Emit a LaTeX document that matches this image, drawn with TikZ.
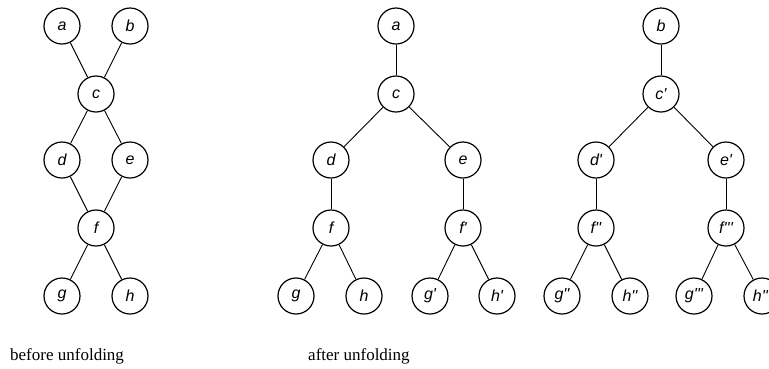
\documentclass[tikz,border=0pt]{standalone}
\usepackage{fontspec}
\setmainfont{Liberation Serif}
\newfontfamily\vfont{Liberation Sans}[Ligatures=TeXOff]
\usetikzlibrary{positioning}

\begin{document}
\begin{tikzpicture}
		[x=1pt, y=-1pt,
		vert/.style ={circle, draw=black, line width=1.2pt, minimum size=36pt, inner sep=0pt, font=\vfont\itshape\fontsize{16}{19}\selectfont},
		link/.style ={black, line width=0.9pt},
		caption/.style ={anchor=base west, inner sep=0pt, font=\fontsize{17}{20}\selectfont}]
		\useasboundingbox (0,0) rectangle (769,368);

		% before unfolding
		\draw (62,26) node[vert] (a) {a};
		\draw (130,26) node[vert] (b) {b};
		\draw (96,94) node[vert] (c) {c};
		\draw (62,160) node[vert] (d) {d};
		\draw (130,160) node[vert] (e) {e};
		\draw (96,228) node[vert] (f) {f};
		\draw (62,296) node[vert] (g) {g};
		\draw (130,296) node[vert] (h) {h};

		\draw[link] (a) -- (c);
		\draw[link] (b) -- (c);
		\draw[link] (c) -- (d);
		\draw[link] (c) -- (e);
		\draw[link] (d) -- (f);
		\draw[link] (e) -- (f);
		\draw[link] (f) -- (g);
		\draw[link] (f) -- (h);

		% after unfolding, root a
		\draw (396,26) node[vert] (ua) {a};
		\draw (396,94) node[vert] (uc) {c};
		\draw (331,160) node[vert] (ud) {d};
		\draw (463,160) node[vert] (ue) {e};
		\draw (331,228) node[vert] (uf) {f};
		\draw (463,228) node[vert] (uf1) {f'};
		\draw (296,296) node[vert] (ug) {g};
		\draw (364,296) node[vert] (uh) {h};
		\draw (430,296) node[vert] (ug1) {g'};
		\draw (497,296) node[vert] (uh1) {h'};

		\draw[link] (ua) -- (uc);
		\draw[link] (uc) -- (ud);
		\draw[link] (uc) -- (ue);
		\draw[link] (ud) -- (uf);
		\draw[link] (ue) -- (uf1);
		\draw[link] (uf) -- (ug);
		\draw[link] (uf) -- (uh);
		\draw[link] (uf1) -- (ug1);
		\draw[link] (uf1) -- (uh1);

		% after unfolding, root b
		\draw (661,26) node[vert] (vb) {b};
		\draw (661,94) node[vert] (vc) {c'};
		\draw (596,160) node[vert] (vd) {d'};
		\draw (726,160) node[vert] (ve) {e'};
		\draw (596,228) node[vert] (vf2) {f''};
		\draw (726,228) node[vert] (vf3) {f'''};
		\draw (562,296) node[vert] (vg2) {g''};
		\draw (630,296) node[vert] (vh2) {h''};
		\draw (694,296) node[vert] (vg3) {g'''};
		\draw (762,296) node[vert] (vh3) {h'''};

		\draw[link] (vb) -- (vc);
		\draw[link] (vc) -- (vd);
		\draw[link] (vc) -- (ve);
		\draw[link] (vd) -- (vf2);
		\draw[link] (ve) -- (vf3);
		\draw[link] (vf2) -- (vg2);
		\draw[link] (vf2) -- (vh2);
		\draw[link] (vf3) -- (vg3);
		\draw[link] (vf3) -- (vh3);

		\draw (10,360) node[caption] (before) {before unfolding};
		\draw (308,360) node[caption] (after) {after unfolding};

	\end{tikzpicture}
\end{document}
